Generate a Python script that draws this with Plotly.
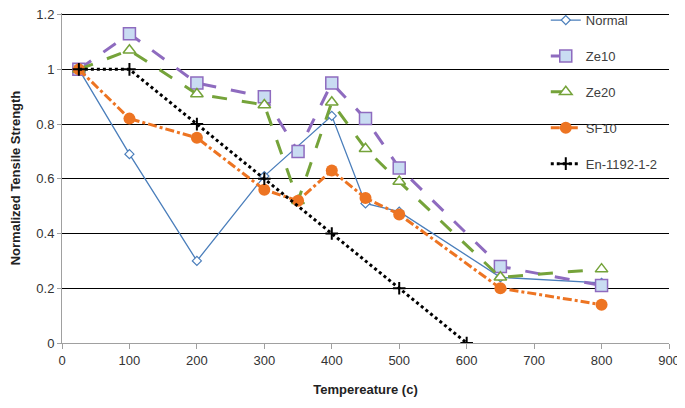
import plotly.graph_objects as go

# Data
normal_x = [25, 100, 200, 300, 400, 450, 500, 650, 800]
normal_y = [1.0, 0.69, 0.30, 0.61, 0.83, 0.51, 0.48, 0.24, 0.22]

ze10_x = [25, 100, 200, 300, 350, 400, 450, 500, 650, 800]
ze10_y = [1.0, 1.13, 0.95, 0.90, 0.70, 0.95, 0.82, 0.64, 0.28, 0.21]

ze20_x = [25, 100, 200, 300, 350, 400, 450, 500, 650, 800]
ze20_y = [1.0, 1.07, 0.91, 0.87, 0.52, 0.88, 0.71, 0.59, 0.24, 0.27]

sf10_x = [25, 100, 200, 300, 350, 400, 450, 500, 650, 800]
sf10_y = [1.0, 0.82, 0.75, 0.56, 0.52, 0.63, 0.53, 0.47, 0.20, 0.14]

en_x = [25, 100, 200, 300, 400, 500, 600]
en_y = [1.0, 1.0, 0.8, 0.6, 0.4, 0.2, 0.0]

x_ticks = [0, 100, 200, 300, 400, 500, 600, 700, 800, 900]
y_ticks = [0, 0.2, 0.4, 0.6, 0.8, 1.0, 1.2]
y_tick_text = ["0", "0.2", "0.4", "0.6", "0.8", "1", "1.2"]

BLUE = "#4A7EBB"
PURPLE = "#8E6BBF"
GREEN = "#75A33A"
ORANGE = "#ED7422"

fig = go.Figure()
fig.add_trace(go.Scatter(
    x=normal_x, y=normal_y, name="Normal", mode="lines+markers", legendgroup="a",
    line=dict(color=BLUE, width=1.3),
    marker=dict(symbol="diamond", size=7, color="white", line=dict(color=BLUE, width=1.2))))
fig.add_trace(go.Scatter(
    x=ze10_x, y=ze10_y, name="Ze10", mode="lines+markers", legendgroup="b",
    line=dict(color=PURPLE, width=3, dash="longdash"),
    marker=dict(symbol="square", size=12, color="#C9DCF2", line=dict(color=PURPLE, width=1.5))))
fig.add_trace(go.Scatter(
    x=ze20_x, y=ze20_y, name="Ze20", mode="lines+markers", legendgroup="c",
    line=dict(color=GREEN, width=3, dash="longdash"),
    marker=dict(symbol="triangle-up", size=11, color="white", line=dict(color=GREEN, width=1.5))))
fig.add_trace(go.Scatter(
    x=sf10_x, y=sf10_y, name="SF10", mode="lines+markers", legendgroup="d",
    line=dict(color=ORANGE, width=3, dash="dashdot"),
    marker=dict(symbol="circle", size=12, color=ORANGE)))
fig.add_trace(go.Scatter(
    x=en_x, y=en_y, name="En-1192-1-2", mode="lines+markers", legendgroup="e",
    line=dict(color="black", width=3, dash="dot"),
    marker=dict(symbol="cross-thin", size=9, color="black", line=dict(color="black", width=2))))

fig.update_layout(
    width=677, height=400,
    margin=dict(l=54, r=16, t=5, b=65, autoexpand=False),
    paper_bgcolor="white", plot_bgcolor="white",
    font=dict(family="Liberation Sans", size=13, color="#333333"),
    showlegend=True,
    legend=dict(x=0.797, y=1.024, xanchor="left", yanchor="top",
                bgcolor="rgba(255,255,255,0)", font=dict(size=13, color="#404040"),
                tracegroupgap=16, traceorder="grouped"),
    xaxis=dict(range=[0, 900], tickvals=x_ticks, showgrid=False, automargin=False,
               showline=True, linecolor="#A0A0A0", linewidth=1,
               ticks="outside", ticklen=5, tickcolor="#A0A0A0",
               zeroline=False, ticklabeloverflow="allow",
               title=dict(text="<b>Tempereature (c)</b>", font=dict(size=13, color="#222222"), standoff=18)),
    yaxis=dict(range=[0, 1.206], tickvals=y_ticks, ticktext=y_tick_text, automargin=False,
               showgrid=True, gridcolor="black", gridwidth=1.3,
               showline=True, linecolor="#A0A0A0", linewidth=1,
               ticks="outside", ticklen=4, tickcolor="#A0A0A0",
               zeroline=False, ticklabeloverflow="allow",
               title=dict(text="<b>Normalized Tensile Strength</b>", font=dict(size=13, color="#222222"), standoff=14)),
)

fig.write_html("out.html")
